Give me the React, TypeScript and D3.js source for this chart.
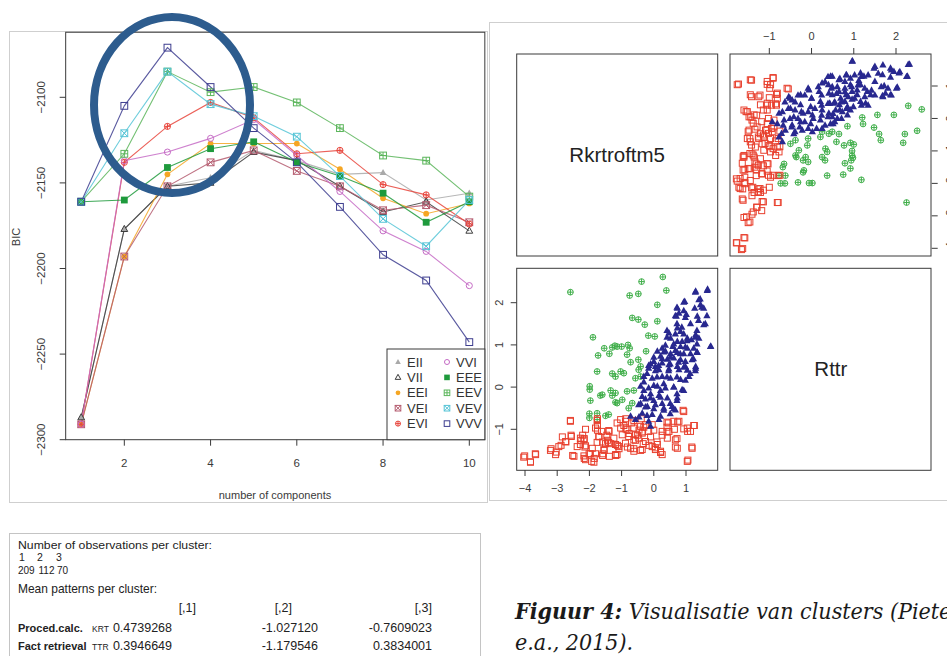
import * as d3 from 'd3'

// ---- BIC panel data (mclust model comparison) ----
const COMPONENTS = [1, 2, 3, 4, 5, 6, 7, 8, 9, 10]
const MODEL_NAMES = ['EII', 'VII', 'EEI', 'VEI', 'EVI', 'VVI', 'EEE', 'EEV', 'VEV', 'VVV']
const BIC_EII = [-2287, -2177, -2152, -2147, -2131, -2137, -2145, -2144, -2160, -2156]
const BIC_VII = [-2287, -2177, -2152, -2150, -2132, -2137, -2152, -2167, -2161, -2178]
const BIC_EEI = [-2291, -2193, -2145, -2127, -2127, -2127, -2142, -2159, -2168, -2162]
const BIC_VEI = [-2291, -2193, -2152, -2138, -2131, -2143, -2152, -2166, -2163, -2173]
const BIC_EVI = [-2291, -2138, -2117, -2103, -2112, -2133, -2131, -2151, -2157, -2174]
const BIC_VVI = [-2291, -2137, -2132, -2124, -2113, -2134, -2155, -2178, -2190, -2210]
const BIC_EEE = [-2161, -2160, -2141, -2130, -2126, -2138, -2146, -2156, -2173, -2161]
const BIC_EEV = [-2161, -2133, -2085, -2097, -2094, -2103, -2118, -2134, -2137, -2158]
const BIC_VEV = [-2161, -2121, -2085, -2104, -2111, -2123, -2146, -2171, -2187, -2160]
const BIC_VVV = [-2161, -2105, -2071, -2094, -2118, -2138, -2164, -2192, -2207, -2243]
const BIC_TICKS = [-2300, -2250, -2200, -2150, -2100]
const K_TICKS = [2, 4, 6, 8, 10]

// ---- pairs panel data: [Rkrtroftm5, Rttr] ----
const VAR_NAMES = ['Rkrtroftm5', 'Rttr']
const KR_TICKS = [-4, -3, -2, -1, 0, 1]
const TT_TICKS = [-1, 0, 1, 2]

const CLUSTER_1 = [
  [1.30,2.27],[1.66,2.29],[0.96,2.03],[1.40,2.07],[1.45,1.95],[1.27,1.87],[1.55,1.87],[0.73,1.87],[0.78,1.75],[1.01,1.72],
  [0.70,1.68],[1.35,1.68],[1.14,1.50],[1.55,1.48],[0.73,1.40],[0.83,1.32],[0.47,1.28],[1.30,1.24],[1.40,1.16],[1.04,1.16],
  [1.17,1.12],[0.52,1.16],[0.73,1.08],[0.88,1.08],[1.76,0.96],[0.26,0.92],[0.59,0.96],[0.83,0.96],[1.04,0.92],[1.24,0.92],
  [0.11,0.85],[0.36,0.85],[0.52,0.79],[0.73,0.82],[0.93,0.79],[1.14,0.79],[1.35,0.82],[0.21,0.73],[0.42,0.66],[0.62,0.69],
  [0.83,0.65],[0.98,0.61],[1.19,0.65],[0.00,0.61],[0.26,0.57],[0.47,0.53],[0.73,0.49],[0.98,0.49],[1.30,0.49],[0.05,0.49],
  [-0.16,0.51],[-0.16,0.45],[0.16,0.41],[0.47,0.43],[0.78,0.41],[1.04,0.40],[1.30,0.45],[-0.31,0.25],[-0.05,0.21],[0.26,0.25],
  [0.52,0.21],[0.83,0.18],[1.09,0.25],[-0.41,0.02],[-0.16,-0.02],[0.11,0.02],[0.36,-0.02],[0.62,0.00],[0.88,-0.06],[-0.36,-0.22],
  [-0.10,-0.26],[0.16,-0.20],[0.42,-0.26],[0.73,-0.26],[-0.47,-0.42],[-0.20,-0.46],[0.05,-0.42],[0.31,-0.50],[0.57,-0.46],[0.67,-0.54],
  [-0.36,-0.62],[-0.05,-0.65],[0.21,-0.69],[-0.72,-0.69],[-0.57,-0.77],[-0.16,-0.81],[0.16,-0.77],[-0.10,-0.93],
  [1.77,0.97],[1.60,1.50],[1.65,1.69],[1.49,1.89],[1.44,2.09],[1.67,2.32],[1.29,2.25],[1.39,1.58],[1.34,1.34],[1.29,1.18],
  [1.34,1.02],[1.34,0.83],[1.23,0.67],[1.29,0.39],[1.13,0.32],[0.98,0.16],[0.93,-0.08],[0.72,-0.16],[0.72,-0.32],[0.62,-0.51],
  [0.51,-0.63],[0.51,-0.39],[0.62,0.00],[0.72,0.24],[0.93,0.47],[0.77,0.59],[0.82,0.79],[0.98,0.95],[1.03,1.10],[0.93,1.26],
  [0.87,1.42],[0.98,1.65],[0.93,1.81],[0.93,2.01],[0.72,1.89],[0.67,1.69],[0.72,1.50],[0.67,1.26],[0.62,1.02],[0.67,0.87],
  [0.51,0.71],[0.51,0.55],[0.46,0.39],[0.41,0.24],[0.31,0.08],[0.21,-0.08],[0.21,-0.24],[0.26,-0.39],[0.31,-0.55],[0.00,-0.51],
  [0.00,-0.32],[-0.10,-0.16],[0.00,0.04],[0.10,0.24],[0.05,0.39],[0.15,0.51],[0.26,0.67],[0.31,0.83],[0.36,0.99],[0.41,1.18],
  [0.41,1.34],[-0.26,-0.47],[-0.26,-0.28],[-0.31,-0.08],[-0.31,0.12],[-0.21,0.32],[-0.10,0.55],[0.00,0.71],[-0.46,-0.71],[-0.21,-0.67],
  [-0.41,-0.39],
]

const CLUSTER_2 = [
  [-1.03,-0.77],[-0.88,-0.81],[-0.69,-0.85],[-1.03,-0.97],[-0.83,-1.01],[-0.62,-0.97],[-0.41,-0.93],[-0.26,-0.89],[-0.98,-1.13],[-0.78,-1.17],
  [-0.57,-1.13],[-0.36,-1.09],[-0.16,-1.05],[-0.88,-1.33],[-0.62,-1.25],[-0.47,-1.21],[-0.26,-1.29],[-1.09,-1.41],[-0.72,-1.45],[-0.36,-1.48],
  [-0.62,-1.52],[-0.05,-1.41],[0.11,-1.36],[0.05,-1.48],[0.21,-1.52],[0.26,-1.60],[0.26,-1.05],[0.47,-1.05],[0.45,-0.85],[0.62,-0.81],
  [0.78,-0.81],[0.93,-0.58],[1.04,-0.97],[1.24,-0.91],[1.14,-1.05],[0.67,-1.25],[0.73,-1.45],[1.19,-1.45],[1.04,-1.76],[0.42,-1.21],
  [-1.14,-1.60],[-2.59,-0.81],[-1.76,-0.79],[-2.12,-1.00],[-1.81,-0.97],[-1.62,-1.05],[-1.40,-1.03],[-1.14,-0.85],[-2.84,-1.18],[-2.56,-1.17],
  [-2.28,-1.21],[-2.17,-1.25],[-1.71,-1.17],[-1.24,-1.21],[-2.74,-1.29],[-2.28,-1.36],[-2.12,-1.39],[-1.76,-1.31],[-1.50,-1.34],[-1.40,-1.31],
  [-1.19,-1.36],[-2.95,-1.41],[-3.21,-1.50],[-2.38,-1.41],[-1.91,-1.45],[-1.55,-1.47],[-3.05,-1.60],[-3.67,-1.60],[-2.48,-1.64],[-2.17,-1.63],
  [-1.97,-1.58],[-1.81,-1.58],[-1.58,-1.58],[-1.38,-1.64],[-1.19,-1.60],[-4.04,-1.66],[-3.83,-1.78],[-2.12,-1.72],[-1.86,-1.78],
  [1.06,-1.73],[1.18,-1.42],[1.26,-0.91],[1.05,-1.05],[0.93,-0.99],[0.91,-0.55],[0.74,-0.83],[0.72,-1.22],[0.67,-1.42],[0.64,-1.00],
  [0.21,-1.55],[0.05,-1.44],[0.10,-1.30],[0.26,-1.14],[0.41,-1.05],[0.41,-0.95],[0.41,-0.83],[-0.05,-0.89],[-0.10,-1.18],[0.00,-1.02],
  [-0.15,-1.38],[-0.41,-1.50],[-0.33,-1.34],[-0.36,-1.06],[-0.31,-0.95],[-0.39,-0.75],[-0.62,-1.46],[-0.57,-1.26],[-0.51,-1.14],[-0.46,-1.02],
  [-0.62,-0.79],[-0.77,-1.10],[-0.82,-1.42],[-0.87,-0.99],[-0.93,-0.91],[-0.87,-0.75],[-1.08,-1.46],[-1.13,-1.38],[-1.18,-1.62],[-1.34,-1.34],
  [-1.44,-1.26],[-1.46,-1.14],[-1.39,-1.05],[-1.54,-1.50],[-1.59,-1.62],[-1.59,-1.30],[-1.70,-1.18],[-1.75,-1.02],[-1.75,-0.91],[-1.75,-0.75],
  [-1.85,-1.69],[-2.01,-1.58],[-1.93,-1.76],[-2.16,-1.69],[-2.14,-1.42],[-2.26,-1.26],[-2.16,-1.22],[-2.21,-1.14],[-2.52,-1.62],[-2.57,-1.14],
  [-2.59,-0.79],[-2.73,-1.30],[-2.88,-1.38],[-3.03,-1.54],[-3.19,-1.46],[-3.68,-1.58],[-3.83,-1.77],[-4.01,-1.63],
]

const CLUSTER_3 = [
  [-2.59,2.25],[-1.89,1.18],[-1.54,0.92],[-1.73,0.75],[-1.38,0.79],[-1.29,0.94],[-1.21,0.98],[-1.14,0.96],[-1.76,0.37],[0.28,2.61],
  [-0.38,2.50],[0.39,2.29],[-0.48,2.21],[-0.75,2.17],[0.11,1.95],[-0.67,1.64],[-0.48,1.60],[-0.28,1.48],[0.11,1.56],[-0.17,1.22],
  [0.03,1.20],[-1.00,0.96],[-0.80,1.00],[-0.75,0.92],[-0.24,0.85],[-0.83,0.77],[-0.48,0.65],[-0.72,0.59],[-0.41,0.49],[-1.03,0.37],
  [-0.93,0.33],[-0.47,0.41],[-0.41,0.25],[-0.57,0.21],[-1.19,-0.14],[-0.83,-0.10],[-0.62,-0.08],[-0.98,-0.30],[-0.67,-0.38],[-0.78,-0.50],
  [-1.14,-0.38],[-1.29,0.32],[-1.19,0.25],[-1.60,-0.18],[-1.34,-0.08],[-1.29,-0.20],[-1.97,-0.32],[-1.19,-0.36],[-2.00,-0.63],[-1.76,-0.62],
  [-1.50,-0.68],[-2.00,-0.73],[-1.76,-0.77],[-1.40,-0.65],[-1.99,0.02],[-1.99,-0.06],[-1.66,-0.20],
]

// ---- printed summary ----
const CLUSTER_IDS = ['1', '2', '3']
const CLUSTER_SIZES = ['209', '112', '70']
const MEAN_COLS = ['[,1]', '[,2]', '[,3]']
const ROW_NAMES = ['Proced.calc.', 'Fact retrieval']
const ROW_TAGS = ['KRT', 'TTR']
const MEAN_KRT = ['0.4739268', '-1.027120', '-0.7609023']
const MEAN_TTR = ['0.3946649', '-1.179546', '0.3834001']

const BIC_BY_MODEL = {
  EII: BIC_EII, VII: BIC_VII, EEI: BIC_EEI, VEI: BIC_VEI, EVI: BIC_EVI,
  VVI: BIC_VVI, EEE: BIC_EEE, EEV: BIC_EEV, VEV: BIC_VEV, VVV: BIC_VVV,
}

const MODEL_STYLE = {
  EII: { color: '#a9a9a9', sym: 'triFill' },
  VII: { color: '#3c3c3c', sym: 'triOpen' },
  EEI: { color: '#f5a623', sym: 'circFill' },
  VEI: { color: '#b45a6e', sym: 'sqCross' },
  EVI: { color: '#e8453c', sym: 'circPlus' },
  VVI: { color: '#c56bc5', sym: 'circOpen' },
  EEE: { color: '#1e9a3c', sym: 'sqFill' },
  EEV: { color: '#5bb55b', sym: 'sqPlus' },
  VEV: { color: '#55c4d6', sym: 'sqCross' },
  VVV: { color: '#3d3d8f', sym: 'sqOpen' },
}

const FONT = 'Liberation Sans, Arial, sans-serif'
const AX = '#3a3a3a'

function Sym({ kind, cx, cy, r, color, sw = 1 }) {
  const tri = `M${cx},${cy - r * 1.1}L${cx + r},${cy + r * 0.7}L${cx - r},${cy + r * 0.7}Z`
  const sq = { x: cx - r, y: cy - r, width: 2 * r, height: 2 * r }
  switch (kind) {
    case 'triFill': return <path d={tri} fill={color} />
    case 'triOpen': return <path d={tri} fill="none" stroke={color} strokeWidth={sw} />
    case 'circFill': return <circle cx={cx} cy={cy} r={r * 0.85} fill={color} />
    case 'circOpen': return <circle cx={cx} cy={cy} r={r * 0.9} fill="none" stroke={color} strokeWidth={sw} />
    case 'circPlus': return (
      <g stroke={color} strokeWidth={sw} fill="none">
        <circle cx={cx} cy={cy} r={r * 0.9} />
        <path d={`M${cx - r * 0.9},${cy}H${cx + r * 0.9}M${cx},${cy - r * 0.9}V${cy + r * 0.9}`} />
      </g>
    )
    case 'sqFill': return <rect {...sq} fill={color} />
    case 'sqOpen': return <rect {...sq} fill="none" stroke={color} strokeWidth={sw} />
    case 'sqPlus': return (
      <g stroke={color} strokeWidth={sw} fill="none">
        <rect {...sq} />
        <path d={`M${cx - r},${cy}H${cx + r}M${cx},${cy - r}V${cy + r}`} />
      </g>
    )
    case 'sqCross': return (
      <g stroke={color} strokeWidth={sw} fill="none">
        <rect {...sq} />
        <path d={`M${cx - r},${cy - r}L${cx + r},${cy + r}M${cx - r},${cy + r}L${cx + r},${cy - r}`} />
      </g>
    )
    default: return null
  }
}

function BicPanel() {
  const x = d3.scaleLinear().domain([1, 10]).range([81.2, 469.3])
  const y = d3.scaleLinear().domain([-2300, -2100]).range([439.7, 97.3])
  const box = { x0: x(0.64), x1: x(10.36), y0: y(-2062), y1: y(-2300) }
  const line = d3.line<number>().x((_, i) => x(COMPONENTS[i])).y(d => y(d))

  const legX = [398, 447]
  const legY = d3.range(5).map(i => 362 + i * 15.4)

  return (
    <g fontFamily={FONT}>
      <rect x={9.5} y={31.5} width={478} height={471} fill="none" stroke="#cfcfcf" />
      {MODEL_NAMES.map(m => (
        <path key={m} d={line(BIC_BY_MODEL[m]) || ''} fill="none"
          stroke={MODEL_STYLE[m].color} strokeWidth={1.1} strokeOpacity={0.85} />
      ))}
      {MODEL_NAMES.map(m => BIC_BY_MODEL[m].map((v, i) => (
        <Sym key={m + i} kind={MODEL_STYLE[m].sym} cx={x(COMPONENTS[i])} cy={y(v)} r={3.4} color={MODEL_STYLE[m].color} />
      )))}
      <rect x={box.x0} y={box.y0} width={box.x1 - box.x0} height={box.y1 - box.y0} fill="none" stroke={AX} />
      {BIC_TICKS.map(t => (
        <g key={t}>
          <line x1={box.x0} x2={box.x0 - 6} y1={y(t)} y2={y(t)} stroke={AX} />
          <text transform={`translate(45,${y(t)}) rotate(-90)`} textAnchor="middle" fontSize={11.5} fill={AX}>
            {'\u2212' + Math.abs(t)}
          </text>
        </g>
      ))}
      {K_TICKS.map(t => (
        <g key={t}>
          <line x1={x(t)} x2={x(t)} y1={box.y1} y2={box.y1 + 6} stroke={AX} />
          <text x={x(t)} y={467} textAnchor="middle" fontSize={11.5} fill={AX}>{t}</text>
        </g>
      ))}
      <text transform="translate(20,237) rotate(-90)" textAnchor="middle" fontSize={11} fill={AX}>BIC</text>
      <text x={275} y={499} textAnchor="middle" fontSize={11} fill={AX}>number of components</text>

      <rect x={387} y={349} width={box.x1 - 387} height={box.y1 - 349} fill="#fff" stroke={AX} />
      {MODEL_NAMES.map((m, i) => {
        const col = Math.floor(i / 5), row = i % 5
        return (
          <g key={m}>
            <Sym kind={MODEL_STYLE[m].sym} cx={legX[col]} cy={legY[row]} r={2.8} color={MODEL_STYLE[m].color} />
            <text x={legX[col] + 9} y={legY[row] + 4.5} fontSize={13} fill="#333">{m}</text>
          </g>
        )
      })}

      {/* highlight ring */}
      <ellipse cx={172} cy={105} rx={78} ry={88} fill="none" stroke="#2d5c8e" strokeWidth={8} />
    </g>
  )
}

function PairsPanel() {
  const krH = d3.scaleLinear().domain([-4, 1]).range([525, 686])
  const ttV = d3.scaleLinear().domain([-1, 2]).range([429.3, 302.7])
  const ttH = d3.scaleLinear().domain([-1, 2]).range([769.3, 896])
  const krV = d3.scaleLinear().domain([-4, 1]).range([248.3, 86])
  const P = { l0: 516.7, l1: 717.7, r0: 730, r1: 931.7, t0: 54, t1: 256, b0: 268.3, b1: 470 }

  const groups = [
    { pts: CLUSTER_3, sym: 'circPlus', color: '#3fae49', r: 3.2 },
    { pts: CLUSTER_2, sym: 'sqOpen', color: '#e8402e', r: 3 },
    { pts: CLUSTER_1, sym: 'triFill', color: '#28288f', r: 3.6 },
  ]
  const lab = (t: number) => (t < 0 ? '\u2212' + -t : String(t))

  return (
    <g fontFamily={FONT}>
      <rect x={489.5} y={22.5} width={470} height={478} fill="none" stroke="#cfcfcf" />
      {[[P.l0, P.t0], [P.r0, P.t0], [P.l0, P.b0], [P.r0, P.b0]].map(([a, b], i) => (
        <rect key={i} x={a} y={b} width={P.l1 - P.l0} height={P.t1 - P.t0} fill="none" stroke={AX} />
      ))}
      <text x={(P.l0 + P.l1) / 2} y={162} textAnchor="middle" fontSize={20.5} fill="#222">{VAR_NAMES[0]}</text>
      <text x={(P.r0 + P.r1) / 2} y={376} textAnchor="middle" fontSize={20.5} fill="#222">{VAR_NAMES[1]}</text>

      {groups.map((g, gi) => (
        <g key={gi}>
          {g.pts.map(([kr, tt], i) => (
            <Sym key={'bl' + i} kind={g.sym} cx={krH(kr)} cy={ttV(tt)} r={g.r} color={g.color} />
          ))}
          {g.pts.map(([kr, tt], i) => (
            <Sym key={'tr' + i} kind={g.sym} cx={ttH(tt)} cy={krV(kr)} r={g.r} color={g.color} />
          ))}
        </g>
      ))}

      {KR_TICKS.map(t => (
        <g key={'kb' + t}>
          <line x1={krH(t)} x2={krH(t)} y1={P.b1} y2={P.b1 + 6} stroke={AX} />
          <text x={krH(t)} y={492} textAnchor="middle" fontSize={11} fill={AX}>{lab(t)}</text>
          <line x1={P.r1} x2={P.r1 + 6} y1={krV(t)} y2={krV(t)} stroke={AX} />
          <text transform={`translate(954,${krV(t)}) rotate(-90)`} textAnchor="middle" fontSize={11} fill={AX}>{lab(t)}</text>
        </g>
      ))}
      {TT_TICKS.map(t => (
        <g key={'tt' + t}>
          <line x1={ttH(t)} x2={ttH(t)} y1={P.t0} y2={P.t0 - 6} stroke={AX} />
          <text x={ttH(t)} y={40} textAnchor="middle" fontSize={11} fill={AX}>{lab(t)}</text>
          <line x1={P.l0} x2={P.l0 - 6} y1={ttV(t)} y2={ttV(t)} stroke={AX} />
          <text transform={`translate(503,${ttV(t)}) rotate(-90)`} textAnchor="middle" fontSize={11} fill={AX}>{lab(t)}</text>
        </g>
      ))}
    </g>
  )
}

function Summary() {
  const numX = [172, 318, 432]
  const colX = [196, 292, 432]
  const idX = [19, 37, 56]
  const sizeX = [18, 38.5, 57]
  return (
    <g fontFamily={FONT} fill="#222">
      <rect x={9.5} y={533.5} width={471} height={140} fill="none" stroke="#c4c4c4" />
      <text x={18} y={549} fontSize={10.5} textLength={194} lengthAdjust="spacingAndGlyphs">Number of observations per cluster:</text>
      {CLUSTER_IDS.map((c, i) => <text key={c} x={idX[i]} y={561} fontSize={10.5}>{c}</text>)}
      {CLUSTER_SIZES.map((c, i) => <text key={c} x={sizeX[i]} y={574} fontSize={10}>{c}</text>)}
      <text x={18} y={593} fontSize={13.5} textLength={139} lengthAdjust="spacingAndGlyphs">Mean patterns per cluster:</text>
      {MEAN_COLS.map((c, i) => <text key={c} x={colX[i]} y={612} fontSize={12.5} textAnchor="end">{c}</text>)}
      {[MEAN_KRT, MEAN_TTR].map((row, r) => (
        <g key={r}>
          <text x={18} y={632 + r * 18} fontSize={11} fontWeight="bold">{ROW_NAMES[r]}</text>
          <text x={92} y={632 + r * 18} fontSize={8.5}>{ROW_TAGS[r]}</text>
          {row.map((v, i) => (
            <text key={i} x={numX[i]} y={632 + r * 18} fontSize={12.5} textAnchor="end">{v}</text>
          ))}
        </g>
      ))}
    </g>
  )
}

function Caption() {
  return (
    <g fontFamily="DejaVu Serif Condensed, DejaVu Serif, serif" fontStyle="italic" fill="#1a1a1a" fontSize={23}>
      <text x={515} y={619}>
        <tspan fontWeight="bold">Figuur 4:</tspan>
        <tspan> Visualisatie van clusters (Pieters</tspan>
      </text>
      <text x={515} y={650}>e.a., 2015).</text>
    </g>
  )
}

export default function App() {
  return (
    <svg width={947} height={656} style={{ position: 'absolute', left: 0, top: 0, background: '#fff' }}>
      <BicPanel />
      <PairsPanel />
      <Summary />
      <Caption />
    </svg>
  )
}
